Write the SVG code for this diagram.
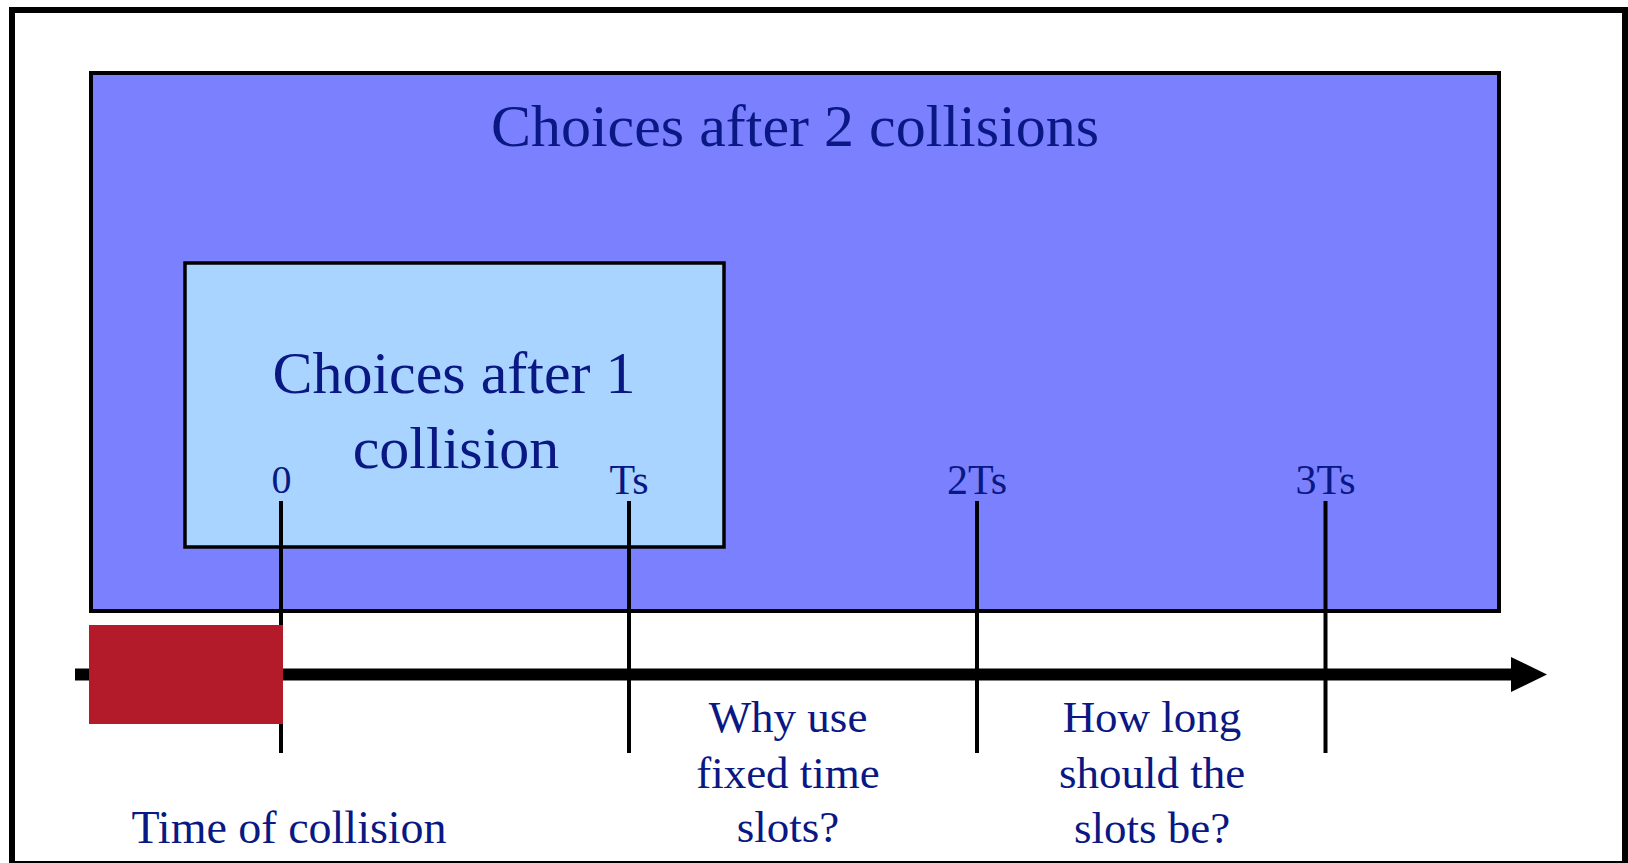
<svg xmlns="http://www.w3.org/2000/svg" width="1628" height="863" viewBox="0 0 1628 863">
  <style>
    .t { font-family: "Liberation Serif", "Times New Roman", serif; fill: #0A1883; text-anchor: middle; }
    .tick { stroke: #000; stroke-width: 4; fill: none; }
  </style>
  <defs>
    <marker id="arrow" markerUnits="userSpaceOnUse" markerWidth="36" markerHeight="36" refX="0" refY="17.5" orient="auto" overflow="visible">
      <path d="M0,0 L36,17.5 L0,35 Z" fill="#000"/>
    </marker>
  </defs>
  <rect x="0" y="0" width="1628" height="863" fill="#fff"/>
  <g id="frame">
    <rect x="12" y="10" width="1613" height="854" fill="#fff" stroke="#000" stroke-width="6"/>
  </g>
  <g id="choices2">
    <rect x="91" y="73" width="1408" height="538" fill="#7B80FF" stroke="#000" stroke-width="4"/>
    <text class="t" x="795" y="146" font-size="60">Choices after 2 collisions</text>
  </g>
  <g id="choices1">
    <rect x="185" y="263" width="539" height="284" fill="#A8D4FF" stroke="#000" stroke-width="3.5"/>
    <text class="t" x="454" y="393" font-size="60">Choices after 1</text>
    <text class="t" x="456" y="468" font-size="60">collision</text>
  </g>
  <g id="connectors">
    <line x1="75" y1="674.5" x2="1511" y2="674.5" stroke="#000" stroke-width="12" marker-end="url(#arrow)"/>
    <line class="tick" x1="281" y1="501" x2="281" y2="753"/>
    <line class="tick" x1="629" y1="501" x2="629" y2="753"/>
    <line class="tick" x1="977" y1="501" x2="977" y2="753"/>
    <line class="tick" x1="1325.5" y1="501" x2="1325.5" y2="753"/>
  </g>
  <g id="tick-labels">
    <text class="t" x="281.5" y="493" font-size="40">0</text>
    <text class="t" x="629" y="494" font-size="42">Ts</text>
    <text class="t" x="977" y="494" font-size="42">2Ts</text>
    <text class="t" x="1325.5" y="494" font-size="42">3Ts</text>
  </g>
  <g id="collision-block">
    <rect x="89" y="625" width="194" height="99" fill="#B31B2B"/>
  </g>
  <g id="label-time">
    <text class="t" x="289" y="843" font-size="46">Time of collision</text>
  </g>
  <g id="label-why">
    <text class="t" x="788" y="732" font-size="45">Why use</text>
    <text class="t" x="788" y="788" font-size="45">fixed time</text>
    <text class="t" x="788" y="842" font-size="45">slots?</text>
  </g>
  <g id="label-how">
    <text class="t" x="1152" y="732" font-size="45">How long</text>
    <text class="t" x="1152" y="788" font-size="45">should the</text>
    <text class="t" x="1152" y="843" font-size="45">slots be?</text>
  </g>
</svg>
